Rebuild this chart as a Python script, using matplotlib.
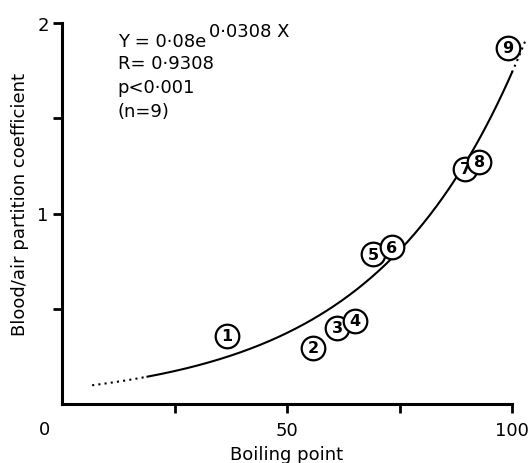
import numpy as np
import matplotlib
matplotlib.use("Agg")
import matplotlib.pyplot as plt

# Data
point_labels = ["1", "2", "3", "4", "5", "6", "7", "8", "9"]
boiling = [36.7, 55.8, 61.1, 65.1, 69.1, 73.3, 89.6, 92.7, 99.1]
coeff = [0.357, 0.294, 0.399, 0.436, 0.787, 0.824, 1.234, 1.271, 1.869]

# Fitted curve Y = a * exp(b * X), as printed on the chart
fit_a = 0.08
fit_b = 0.0308
solid_range = (19.0, 100.0)
dotted_low = (6.7, 19.0)
dotted_high = (100.0, 103.0)

xticks = [25, 50, 75, 100]
xticklabels = ["", "50", "", "100"]
yticks = [0.5, 1.0, 1.5, 2.0]
yticklabels = ["", "1", "", "2"]

stats_lines = ["R= 0·9308", "p<0·001", "(n=9)"]

plt.rcParams['font.family'] = ['DejaVu Sans']
FS = 13

fig = plt.figure(figsize=(5.31, 4.64), dpi=100)
ax = fig.add_axes([62/531, 1 - 405/464, 450/531, 381/464])

def fit(x):
    return fit_a * np.exp(fit_b * x)

xs = np.linspace(*solid_range, 200)
ax.plot(xs, fit(xs), color='black', lw=1.5, zorder=2, clip_on=False)
for rng in (dotted_low, dotted_high):
    xd = np.linspace(*rng, 40)
    ax.plot(xd, fit(xd), color='black', lw=1.5, ls=(0, (1, 2)), zorder=2, clip_on=False)

for i, (lab, x, y) in enumerate(zip(point_labels, boiling, coeff)):
    ax.plot([x], [y], marker='o', markersize=17, markerfacecolor='white',
            markeredgecolor='black', markeredgewidth=1.6, zorder=3 + i, clip_on=False)
    ax.text(x, y, lab, ha='center', va='center', fontsize=11.5, fontweight='bold',
            zorder=3 + i + 0.5)

ax.set_xlim(0, 100)
ax.set_ylim(0, 2)
ax.set_xticks(xticks)
ax.set_xticklabels(xticklabels, fontsize=FS)
ax.set_yticks(yticks)
ax.set_yticklabels(yticklabels, fontsize=FS)

for s in ['top', 'right']:
    ax.spines[s].set_visible(False)
for s in ['left', 'bottom']:
    ax.spines[s].set_linewidth(2.2)
ax.tick_params(axis='both', direction='out', length=6.5, width=2.0)
ax.tick_params(axis='x', pad=6)
ax.tick_params(axis='y', pad=3)

ax.text(-0.04, -0.066, "0", transform=ax.transAxes, ha='center', va='center', fontsize=FS)

ax.set_xlabel("Boiling point", fontsize=FS)
ax.xaxis.set_label_coords(0.5, -0.108)
ax.set_ylabel("Blood/air partition coefficient", fontsize=FS)
ax.yaxis.set_label_coords(-0.073, 0.525)

t = ax.text(12.4, 1.879, "Y = 0·08e", fontsize=FS, ha='left', va='baseline')
ax.annotate("0·0308 X", xy=(1, 0), xycoords=t, xytext=(2, 7.5),
            textcoords='offset points', ha='left', va='bottom', fontsize=FS)
for line, yb in zip(stats_lines, [1.764, 1.638, 1.512]):
    ax.text(12.4, yb, line, fontsize=FS, ha='left', va='baseline')

fig.savefig("out.png", dpi=100)
